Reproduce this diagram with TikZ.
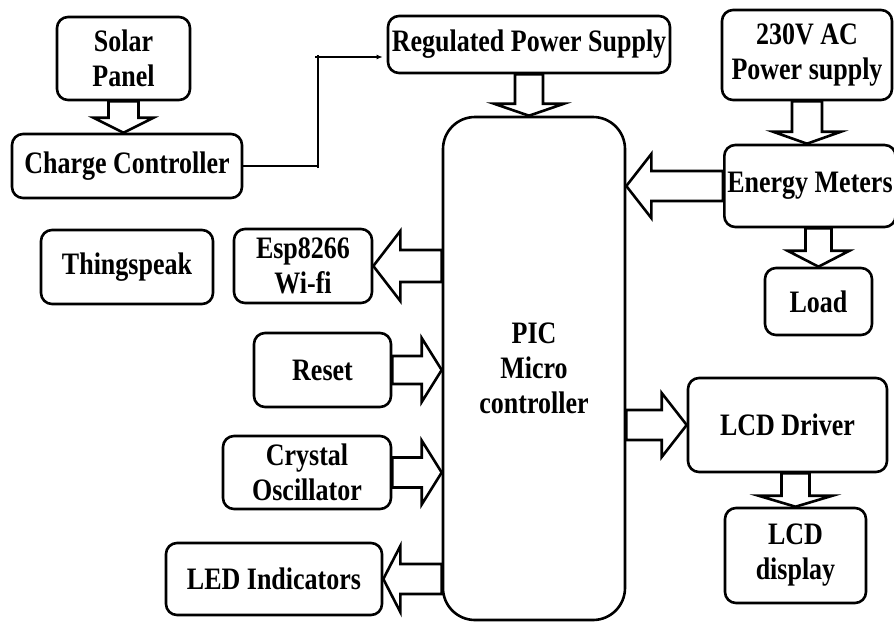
\documentclass[tikz,border=0pt]{standalone}
\usepackage{fontspec}
\setmainfont{Liberation Serif}
\usetikzlibrary{calc,arrows.meta}
\newcommand\T[1]{\scalebox{1}[1.2]{#1}}
\tikzset{
  box/.style={draw, line width=2.6pt, rounded corners=11pt, fill=white, inner sep=0pt,
    align=center, font=\bfseries\fontsize{26}{35}\selectfont},
  barr/.style={draw, fill=white, line width=2.6pt, line join=miter},
  thinline/.style={line width=1.4pt},
}
\newcommand\blockarr[5]{%
  \path (#1) coordinate (bs) (#2) coordinate (bt);
  \coordinate (bh) at ($(bt)!#5!(bs)$);
  \draw[barr] ($(bs)!#3!90:(bt)$) -- ($(bh)!#3!-90:(bs)$) -- ($(bh)!#4!-90:(bs)$) -- (bt)
     -- ($(bh)!#4!90:(bs)$) -- ($(bh)!#3!90:(bs)$) -- ($(bs)!#3!-90:(bt)$) -- cycle;
}
\begin{document}
\begin{tikzpicture}[x=1pt,y=-1pt]
\useasboundingbox[fill=white] (0,0) rectangle (894,622);

\node[box, minimum width=133pt, minimum height=83pt] (solar) at (123.5,58.5) {\T{Solar}\\\T{Panel}};
\node[box, minimum width=230pt, minimum height=64pt] (charge) at (127,166) {\T{Charge Controller}};
\node[box, minimum width=282pt, minimum height=57pt] (reg) at (529,44.5) {\T{Regulated Power Supply}};
\node[box, minimum width=182pt, minimum height=503pt, rounded corners=32pt] (pic) at (534,368.5) {\T{PIC}\\\T{Micro}\\\T{controller}};
\node[box, minimum width=170pt, minimum height=90pt] (ac) at (807,55) {\T{230V AC}\\\T{Power supply}};
\node[box, minimum height=82pt, inner xsep=3pt, anchor=west] (em) at (723,186) {\T{Energy Meters}};
\node[box, minimum width=107pt, minimum height=67pt] (load) at (818.5,301.5) {\T{Load}};
\node[box, minimum width=199pt, minimum height=94pt] (lcdd) at (787.5,425) {\T{LCD Driver}};
\node[box, minimum width=141pt, minimum height=95pt] (lcdisp) at (795.5,555.5) {\T{LCD}\\\T{display}};
\node[box, minimum width=172pt, minimum height=74pt] (thing) at (127,267) {\T{Thingspeak}};
\node[box, minimum width=138pt, minimum height=74pt] (esp) at (303,266) {\T{Esp8266}\\\T{Wi-fi}};
\node[box, minimum width=137pt, minimum height=74pt] (reset) at (322.5,370) {\T{Reset}};
\node[box, minimum width=168pt, minimum height=73pt] (crystal) at (307,472.5) {\T{Crystal}\\\T{Oscillator}};
\node[box, minimum width=216pt, minimum height=72pt] (led) at (274,579) {\T{LED Indicators}};

% block arrows
\blockarr{solar.south}{solar.south |- charge.north}{15pt}{30pt}{15pt}
\blockarr{reg.south}{reg.south |- pic.north}{14pt}{35pt}{12pt}
\blockarr{ac.south}{ac.south |- em.north}{15pt}{34pt}{12pt}
\blockarr{em.west}{em.west -| pic.east}{15pt}{32pt}{25pt}
\blockarr{em.south -| load.north}{load.north}{13pt}{31pt}{16pt}
\blockarr{pic.east |- lcdd.west}{lcdd.west}{15pt}{32pt}{25pt}
\blockarr{lcdd.south -| lcdisp.north}{lcdisp.north}{14pt}{37pt}{11pt}
\blockarr{pic.west |- esp.east}{esp.east}{16pt}{35pt}{27pt}
\blockarr{reset.east}{reset.east -| pic.west}{14pt}{32pt}{20pt}
\blockarr{crystal.east}{crystal.east -| pic.west}{15pt}{32pt}{20pt}
\blockarr{pic.west |- led.east}{led.east}{15pt}{33pt}{17pt}

% thin connector
\coordinate (bend) at (318,57);
\draw[thinline] (charge.east) -- (charge.east -| bend);
\draw[thinline] ($(bend |- charge.east)+(0,2)$) -- ($(bend)+(0,-2)$);
\draw[thinline, -{Latex[length=6pt,width=5pt]}] ($(bend)+(-3,0)$) -- ($(reg.west |- bend)+(-4,0)$);
\end{tikzpicture}
\end{document}
